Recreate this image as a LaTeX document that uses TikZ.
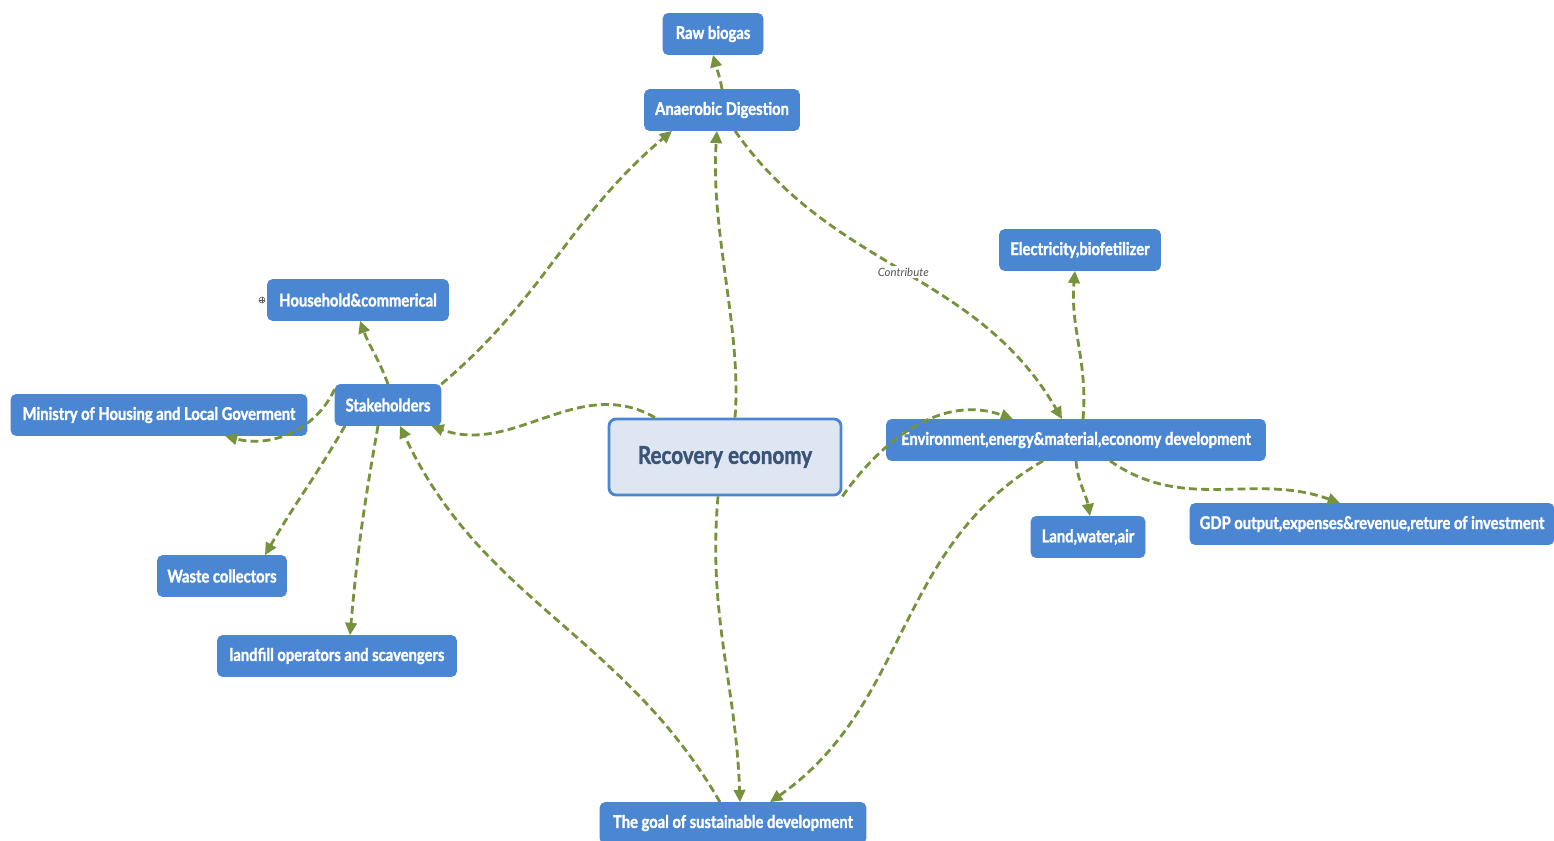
\documentclass[tikz,border=0pt]{standalone}
\usepackage{fontspec}
\setmainfont{Lato}
\newfontfamily\boxfont[FakeStretch=0.84, FakeBold=1.5]{Lato}
\usetikzlibrary{arrows.meta}
\definecolor{boxblue}{RGB}{74,134,210}
\definecolor{corefill}{RGB}{222,230,241}
\definecolor{coretext}{RGB}{58,84,120}
\definecolor{linkgreen}{RGB}{118,146,60}
\definecolor{notegray}{RGB}{85,85,85}

\tikzset{
  topic/.style={fill=boxblue, draw=boxblue, rounded corners=0.1cm, text=white,
    font=\boxfont\bfseries\fontsize{10}{12}\selectfont, minimum height=0.82cm, inner xsep=0.15cm},
  core/.style={fill=corefill, draw=boxblue, line width=1.6pt, rounded corners=0.14cm, text=coretext,
    font=\boxfont\bfseries\fontsize{14}{16}\selectfont},
  link/.style={linkgreen, line width=1.6pt, dash pattern=on 4.5pt off 2.4pt,
    -{Triangle[length=7pt,width=6.5pt]}},
  note/.style={font=\itshape\fontsize{6.5}{7}\selectfont, text=notegray, fill=white, inner sep=1pt}
}

\begin{document}
\begin{tikzpicture}[x=0.02cm, y=-0.02cm]
  \useasboundingbox (0,0) rectangle (1554,841);

  % Centre
  \node[core, minimum width=4.64cm, minimum height=1.52cm] (rec) at (725,457) {Recovery economy};

  % Topics
  \node[topic, minimum width=2cm] (raw) at (713,34) {Raw biogas};
  \node[topic, minimum width=3.1cm] (ad) at (722,110) {Anaerobic Digestion};
  \node[topic, minimum width=3.62cm] (house) at (358,300) {Household\&commerical};
  \node[circle, draw=notegray, line width=0.3pt, inner sep=0pt, minimum size=0.12cm] (fold) at (262,300) {};
  \node[topic, minimum width=2.12cm] (stake) at (388,405) {Stakeholders};
  \node[topic, minimum width=5.92cm] (min) at (159,415) {Ministry of Housing and Local Goverment};
  \node[topic, minimum width=2.58cm] (waste) at (222,576) {Waste collectors};
  \node[topic, minimum width=4.78cm] (fill) at (337,656) {landfill operators and scavengers};
  \node[topic, minimum width=3.22cm] (elec) at (1080,250) {Electricity,biofetilizer};
  \node[topic, minimum width=7.58cm] (env) at (1076,440) {Environment,energy\&material,economy development};
  \node[topic, minimum width=2.28cm] (lwa) at (1088,537) {Land,water,air};
  \node[topic, minimum width=7.28cm] (gdp) at (1372,524) {GDP output,expenses\&revenue,reture of investment};
  \node[topic, minimum width=5.32cm] (goal) at (733,823) {The goal of sustainable development};

  \draw[notegray, line width=0.3pt] (fold.west) -- (fold.east) (fold.north) -- (fold.south);

  % Links
  \draw[link] (ad.north) to[out=100,in=-75] (raw.south);
  \draw[link] (stake.north east) to[out=40,in=-140] ([xshift=-1cm]ad.south);
  \draw[link] ([xshift=0.2cm]rec.north) .. controls (742,330) and (710,230) .. ([xshift=-0.1cm]ad.south);
  \draw[link] ([xshift=0.26cm]ad.south) to[out=-55,in=120]
    node[note, pos=0.5] {Contribute} ([xshift=-0.28cm]env.north);
  \draw[link] (stake.north) to[out=110,in=-70] ([xshift=0.04cm]house.south);
  \draw[link] ([yshift=-0.1cm]stake.north west) to[out=-115,in=-15] ([xshift=1.32cm]min.south);
  \draw[link] ([xshift=-0.86cm]stake.south) to[out=-120,in=60] ([xshift=0.86cm]waste.north);
  \draw[link] ([xshift=-0.2cm]stake.south) to[out=-100,in=85] ([xshift=0.26cm]fill.north);
  \draw[link] ([xshift=-1.4cm]rec.north) to[out=150,in=-20] ([xshift=-0.2cm]stake.south east);
  \draw[link] ([xshift=-0.26cm]goal.north) to[out=120,in=-65] ([xshift=0.24cm]stake.south);
  \draw[link] ([xshift=-0.14cm]rec.south) to[out=-95,in=92] ([xshift=0.14cm]goal.north);
  \draw[link] ([xshift=-0.66cm]env.south) to[out=-150,in=35] ([xshift=0.74cm]goal.north);
  \draw[link] (rec.south east) to[out=55,in=160] ([xshift=-1.26cm]env.north);
  \draw[link] ([xshift=0.14cm]env.north) to[out=85,in=-95] ([xshift=-0.1cm]elec.south);
  \draw[link] (env.south) to[out=-85,in=100] ([xshift=0.04cm]lwa.north);
  \draw[link] ([xshift=0.68cm]env.south) to[out=-35,in=160] ([xshift=-0.64cm]gdp.north);
\end{tikzpicture}
\end{document}
